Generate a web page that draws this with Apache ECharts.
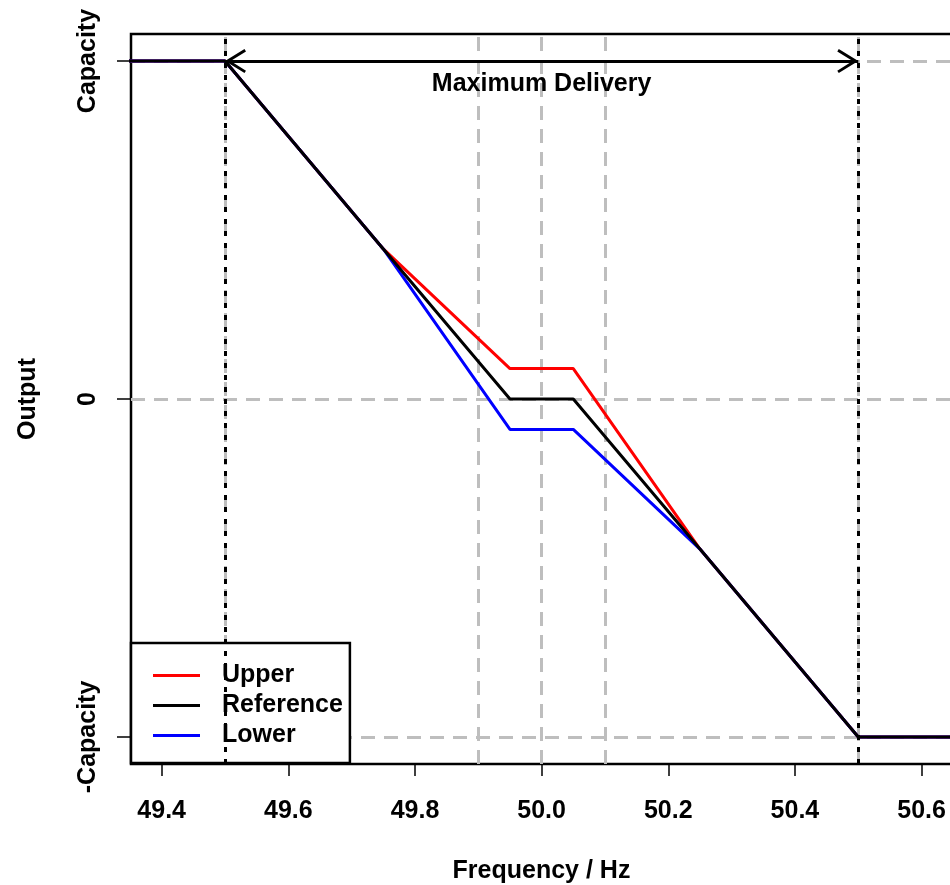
<!DOCTYPE html>
<html>
<head>
<meta charset="utf-8">
<title>Frequency response</title>
<script src="https://cdn.jsdelivr.net/npm/echarts@6/dist/echarts.min.js"></script>
<style>
  html, body { margin: 0; padding: 0; background: #fff; }
  #chart { width: 950px; height: 885px; }
</style>
</head>
<body>
<div id="chart"></div>
<script>
// frequency breakpoints (Hz) and output as a fraction of capacity
const freq = [49.3, 49.5, 49.75, 49.95, 50.05, 50.25, 50.5, 50.7];
const upper = [1, 1, 0.444, 0.09, 0.09, -0.444, -1, -1];
const reference = [1, 1, 0.444, 0, 0, -0.444, -1, -1];
const lower = [1, 1, 0.444, -0.09, -0.09, -0.444, -1, -1];

const xTicks = [49.4, 49.6, 49.8, 50.0, 50.2, 50.4, 50.6];
const yTicks = [-1, 0, 1];
const yTickLabels = ['-Capacity', '0', 'Capacity'];

const guideX = [49.5, 49.9, 50.0, 50.1, 50.5];
const guideY = [-1, 0, 1];
const deliveryBand = [49.5, 50.5];

const font = '"Liberation Sans", Arial, sans-serif';
const pairs = (ys) => freq.map((f, i) => [f, ys[i]]);

// open arrow head: tip sits in the middle of the box (empty point on top keeps it centred)
const arrowHead = 'path://M12 0 L12 0 M12 21 L24 40.5 L21.6 42 L12 26.6 L2.4 42 L0 40.5 Z';

const myChart = echarts.init(document.getElementById('chart'));

const option = {
    animation: false,
    grid: {
        left: 131,
        top: 34,
        width: 821,
        height: 730,
        show: true,
        borderColor: '#000',
        borderWidth: 2.5,
        containLabel: false,
        outerBoundsMode: 'none'
    },
    xAxis: {
        type: 'value',
        min: 49.3516,
        max: 50.648,
        name: 'Frequency / Hz',
        nameLocation: 'middle',
        nameGap: 95,
        nameTextStyle: { fontSize: 25, fontWeight: 'bold', color: '#000', fontFamily: font },
        axisLine: { show: false, onZero: false },
        splitLine: { show: false },
        axisTick: {
            show: true,
            length: 12,
            customValues: xTicks,
            lineStyle: { color: '#000', width: 1.5 }
        },
        axisLabel: {
            customValues: xTicks,
            margin: 35,
            fontSize: 25,
            fontWeight: 'bold',
            color: '#000',
            fontFamily: font,
            formatter: (v) => v.toFixed(1)
        }
    },
    yAxis: {
        type: 'value',
        min: -1.08,
        max: 1.08,
        name: 'Output',
        nameLocation: 'middle',
        nameGap: 90,
        nameTextStyle: { fontSize: 25, fontWeight: 'bold', color: '#000', fontFamily: font },
        axisLine: { show: false, onZero: false },
        splitLine: { show: false },
        axisTick: {
            show: true,
            length: 14,
            customValues: yTicks,
            lineStyle: { color: '#000', width: 1.5 }
        },
        axisLabel: {
            customValues: yTicks,
            rotate: 90,
            margin: 30,
            fontSize: 25,
            fontWeight: 'bold',
            color: '#000',
            fontFamily: font,
            formatter: (v) => yTickLabels[yTicks.indexOf(v)]
        }
    },
    legend: {
        orient: 'vertical',
        left: 131,
        top: 643,
        padding: [20, 7, 15, 22],
        itemGap: 5,
        itemWidth: 47,
        itemHeight: 3,
        icon: 'rect',
        backgroundColor: '#fff',
        borderColor: '#000',
        borderWidth: 2.5,
        borderRadius: 0,
        textStyle: {
            fontSize: 25,
            lineHeight: 25,
            fontWeight: 'bold',
            color: '#000',
            fontFamily: font,
            padding: [0, 0, 0, 17]
        },
        data: ['Upper', 'Reference', 'Lower']
    },
    series: [
        {
            // grey guide lines
            type: 'line',
            data: [],
            silent: true,
            markLine: {
                z: 1,
                silent: true,
                symbol: 'none',
                label: { show: false },
                lineStyle: { color: '#bebebe', width: 3, type: [14, 9] },
                data: guideX.map((v) => ({ xAxis: v })).concat(guideY.map((v) => ({ yAxis: v })))
            }
        },
        {
            name: 'Upper',
            type: 'line',
            z: 2,
            data: pairs(upper),
            showSymbol: false,
            symbol: 'none',
            color: '#ff0000',
            lineStyle: { color: '#ff0000', width: 3 }
        },
        {
            name: 'Lower',
            type: 'line',
            z: 2,
            data: pairs(lower),
            showSymbol: false,
            symbol: 'none',
            color: '#0000ff',
            lineStyle: { color: '#0000ff', width: 3 }
        },
        {
            name: 'Reference',
            type: 'line',
            z: 3,
            data: pairs(reference),
            showSymbol: false,
            symbol: 'none',
            color: '#000',
            lineStyle: { color: '#000', width: 3 },
            markLine: {
                z: 5,
                silent: true,
                symbol: [arrowHead, arrowHead],
                symbolSize: [24, 42],
                lineStyle: { color: '#000', width: 3, type: 'solid' },
                label: {
                    show: true,
                    position: 'insideMiddleBottom',
                    distance: 11,
                    formatter: 'Maximum Delivery',
                    fontSize: 25,
                    fontWeight: 'bold',
                    color: '#000',
                    fontFamily: font
                },
                data: [[
                    { coord: [deliveryBand[0], reference[1]] },
                    { coord: [deliveryBand[1], reference[1]] }
                ]]
            }
        },
        {
            // dotted limits of the delivery band
            type: 'line',
            data: [],
            silent: true,
            markLine: {
                z: 6,
                silent: true,
                symbol: 'none',
                label: { show: false },
                lineStyle: { color: '#000', width: 3, type: [5, 7] },
                data: deliveryBand.map((v) => ({ xAxis: v }))
            }
        }
    ]
};

myChart.setOption(option);

window.addEventListener('resize', () => {
    myChart.resize();
});
</script>
</body>
</html>
